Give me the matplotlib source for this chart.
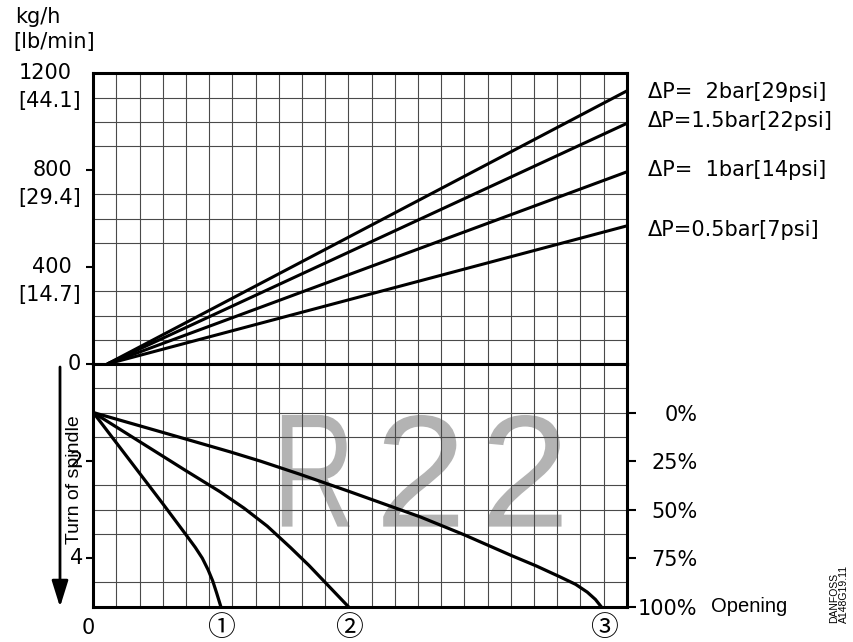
import numpy as np
import matplotlib
matplotlib.use("Agg")
import matplotlib.pyplot as plt
from matplotlib.textpath import TextPath
from matplotlib.patches import PathPatch, FancyArrowPatch
from matplotlib.font_manager import FontProperties
from matplotlib.transforms import Affine2D

plt.rcParams['font.family'] = ['DejaVu Sans', 'Noto Sans CJK JP']

# --- data ---------------------------------------------------------------
# capacity lines (x in grid cells, y in kg/h)
flow_x = [0.6, 23]
flow_2bar = [0, 1127]
flow_15bar = [0, 993]
flow_1bar = [0, 793]
flow_05bar = [0, 570]
dp_labels = ["ΔP=  2bar[29psi]", "ΔP=1.5bar[22psi]", "ΔP=  1bar[14psi]", "ΔP=0.5bar[7psi]"]
dp_label_y = [1121, 1002, 800, 553]

kg_ticks = [1200, 800, 400]
kg_labels = ["1200", "800", "400"]
lb_labels = ["[44.1]", "[29.4]", "[14.7]"]

# spindle curves (x in grid cells, y in turns)
c1_x = [0, 1.5, 3.0, 4.0, 4.4, 4.7, 4.95, 5.15, 5.32, 5.5]
c1_y = [1, 1.94, 2.88, 3.52, 3.78, 4.0, 4.24, 4.47, 4.72, 5.0]
c2_x = [0, 1.0, 2.5, 4.0, 5.46, 6.5, 7.5, 8.5, 9.3, 10.0, 10.5, 11.0]
c2_y = [1, 1.3, 1.75, 2.2, 2.63, 2.97, 3.34, 3.78, 4.15, 4.5, 4.75, 5.0]
c3_x = [0, 3.0, 5.9, 7.2, 8.9, 11.0, 14.1, 16.0, 18.0, 19.1, 20.1, 20.8, 21.3, 21.65, 21.9]
c3_y = [1, 1.41, 1.81, 2.0, 2.27, 2.62, 3.15, 3.52, 3.94, 4.16, 4.38, 4.54, 4.7, 4.85, 5.0]

turn_ticks = [2, 4]
pct_ticks = [1, 2, 3, 4, 5]
pct_labels = ["0%", "25%", "50%", "75%", "100%"]
curve_ends = [5.5, 11, 22]
curve_names = ["①", "②", "③"]

# --- layout -------------------------------------------------------------
W, H = 854, 642
fig = plt.figure(figsize=(W / 100, H / 100), dpi=100)


def box(l, t, r, b):
    return [l / W, 1 - b / H, (r - l) / W, (b - t) / H]


ax = fig.add_axes(box(93.3, 73.3, 626.7, 364))
axb = fig.add_axes(box(93.3, 364, 626.7, 606.7))

for a in (ax, axb):
    a.set_xlim(0, 23)
    a.set_xticks([])
    a.set_xticks(np.arange(0, 24), minor=True)
    a.grid(which='minor', color='#4a4a4a', lw=0.8)
    a.set_axisbelow(True)
    for s in a.spines.values():
        s.set_linewidth(2.2)
    a.tick_params(which='minor', length=0, labelbottom=False, labelleft=False)
    a.tick_params(which='major', direction='out', length=5, width=1.5,
                  labelbottom=False, labelleft=False)

ax.set_ylim(0, 1200)
ax.set_yticks([0, 400, 800])
ax.set_yticks(np.arange(0, 1201, 100), minor=True)

axb.set_ylim(5, 0)
axb.set_yticks(turn_ticks)
axb.set_yticks(np.arange(0, 5.01, 0.5), minor=True)

# capacity lines
for fy in (flow_2bar, flow_15bar, flow_1bar, flow_05bar):
    ax.plot(flow_x, fy, color='black', lw=2.2, solid_capstyle='butt', zorder=3)

# spindle curves
for cx, cy in ((c1_x, c1_y), (c2_x, c2_y), (c3_x, c3_y)):
    axb.plot(cx, cy, color='black', lw=2.3, solid_joinstyle='round', zorder=3)

# R22 watermark
fp = FontProperties(family='Liberation Sans')
letter_boxes = [("R", 8.13, 11.06), ("2", 12.5, 15.73), ("2", 17.03, 20.19)]
for ch, x0, x1 in letter_boxes:
    p = TextPath((0, 0), ch, size=1, prop=fp)
    e = p.get_extents()
    y0, y1 = 1.05, 3.35
    tr = (Affine2D().translate(-e.x0, -e.y0)
          .scale((x1 - x0) / e.width, -(y1 - y0) / e.height)
          .translate(x0, y1))
    axb.add_patch(PathPatch(tr.transform_path(p), facecolor='#b3b3b3',
                            edgecolor='none', zorder=0.3))

# left labels, top part
ytr = ax.get_yaxis_transform()
for v, t, b in zip(kg_ticks, kg_labels, lb_labels):
    ax.annotate(t, xy=(0, v), xycoords=ytr, xytext=(-15.3, 0),
                textcoords='offset points', ha='right', va='center', fontsize=15)
    ax.annotate(b, xy=(0, v), xycoords=ytr, xytext=(-8.9, -20),
                textcoords='offset points', ha='right', va='center', fontsize=15)
ax.annotate("0", xy=(0, 0), xycoords=ytr, xytext=(-8.9, 0),
            textcoords='offset points', ha='right', va='center', fontsize=15)

# dp labels
for t, v in zip(dp_labels, dp_label_y):
    ax.annotate(t, xy=(1, v), xycoords=ytr, xytext=(15.3, 0),
                textcoords='offset points', ha='left', va='center', fontsize=15)

# bottom left turn labels
ybtr = axb.get_yaxis_transform()
for v in turn_ticks:
    axb.annotate(str(v), xy=(0, v), xycoords=ybtr, xytext=(-7.4, 0),
                 textcoords='offset points', ha='right', va='center', fontsize=15)

# right percentage axis
axr = axb.twinx()
axr.set_ylim(5, 0)
axr.set_yticks(pct_ticks, labels=pct_labels)
axr.tick_params(direction='out', length=6.5, width=1.5, pad=44.5, labelsize=15)
for lbl in axr.get_yticklabels():
    lbl.set_ha('right')
for s in axr.spines.values():
    s.set_visible(False)
axb.annotate("Opening", xy=(1, 5), xycoords=ybtr, xytext=(61, 0),
             textcoords='offset points', ha='left', va='center',
             fontsize=14.5, family='Liberation Sans')

# bottom labels
xbtr = axb.get_xaxis_transform()
axb.annotate("0", xy=(0, 0), xycoords=xbtr, xytext=(-3.6, -15.3),
             textcoords='offset points', ha='center', va='center', fontsize=15)
for x, t in zip(curve_ends, curve_names):
    axb.annotate(t, xy=(x, 0), xycoords=xbtr, xytext=(0, -15.3),
                 textcoords='offset points', ha='center', va='center',
                 fontsize=20, family=['Noto Sans CJK JP', 'DejaVu Sans'])

# headings and side texts
fig.text(15 / W, 1 - 17 / H, "kg/h", fontsize=15, ha='left', va='center')
fig.text(13 / W, 1 - 42 / H, "[lb/min]", fontsize=15, ha='left', va='center')
fig.text(74.5 / W, 1 - 480 / H, "Turn of spindle", rotation=90, fontsize=14,
         family='Liberation Sans', ha='center', va='center')
fig.text(839 / W, 1 - 623 / H, "DANFOSS\nA148G19.11", rotation=90, fontsize=7.5,
         family='Liberation Sans', ha='center', va='bottom', multialignment='left',
         linespacing=1.0)

# spindle direction arrow
fig.add_artist(FancyArrowPatch(
    (60 / W, 1 - 367 / H), (60 / W, 1 - 607 / H), transform=fig.transFigure,
    arrowstyle='-|>,head_length=0.8,head_width=0.25', mutation_scale=20,
    color='black', lw=2, shrinkA=0, shrinkB=0))

fig.savefig("out.png", dpi=100)
